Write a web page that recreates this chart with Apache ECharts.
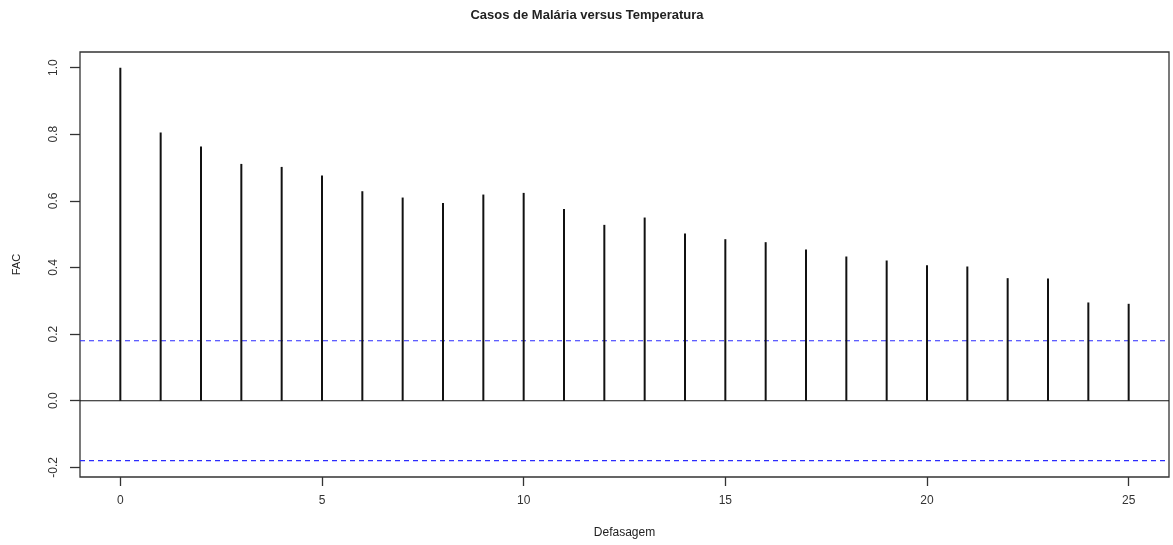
<!DOCTYPE html>
<html>
<head>
<meta charset="utf-8">
<script src="https://cdn.jsdelivr.net/npm/echarts@6/dist/echarts.min.js"></script>
<style>
  html, body { margin: 0; padding: 0; background: #fff; }
  #chart { width: 1173px; height: 545px; }
</style>
</head>
<body>
<div id="chart"></div>
<script>
// lags and autocorrelation values
const lags = [0, 1, 2, 3, 4, 5, 6, 7, 8, 9, 10, 11, 12, 13, 14, 15, 16, 17, 18, 19, 20, 21, 22, 23, 24, 25];
const acfValues = [1.0, 0.805, 0.763, 0.711, 0.702, 0.676, 0.629, 0.610, 0.594, 0.619, 0.624, 0.576, 0.528,
    0.550, 0.502, 0.485, 0.476, 0.454, 0.433, 0.421, 0.407, 0.403, 0.368, 0.367, 0.295, 0.291];
const confLimits = [0.18, -0.18];
const xTicks = [0, 5, 10, 15, 20, 25];
const yTicks = [-0.2, 0, 0.2, 0.4, 0.6, 0.8, 1.0];

const chart = echarts.init(document.getElementById('chart'));
const font = 'Liberation Sans, Arial, sans-serif';

const option = {
    animation: false,
    backgroundColor: '#fff',
    title: {
        text: 'Casos de Malária versus Temperatura',
        left: 582,
        textAlign: 'center',
        top: 4,
        textStyle: { fontFamily: font, fontSize: 13, fontWeight: 'bold', color: '#222' }
    },
    grid: {
        left: 80, right: 4, top: 52, bottom: 68,
        containLabel: false,
        outerBoundsMode: 'none',
        show: true,
        borderColor: '#333',
        borderWidth: 1.3,
        backgroundColor: 'transparent'
    },
    xAxis: {
        type: 'value',
        min: -1,
        max: 26,
        name: 'Defasagem',
        nameLocation: 'middle',
        nameGap: 50,
        nameTextStyle: { fontFamily: font, fontSize: 12, color: '#222' },
        splitLine: { show: false },
        axisLine: { show: false, onZero: false },
        axisTick: { show: true, inside: false, length: 9, customValues: xTicks, lineStyle: { color: '#333', width: 1.3 } },
        axisLabel: { customValues: xTicks, margin: 18, fontFamily: font, fontSize: 12, color: '#333' }
    },
    yAxis: {
        type: 'value',
        min: -0.229,
        max: 1.047,
        name: 'FAC',
        nameLocation: 'middle',
        nameRotate: 90,
        nameGap: 58,
        nameTextStyle: { fontFamily: font, fontSize: 11, color: '#222' },
        splitLine: { show: false },
        axisLine: { show: false, onZero: false },
        axisTick: { show: true, inside: false, length: 10, customValues: yTicks, lineStyle: { color: '#333', width: 1.3 } },
        axisLabel: {
            customValues: yTicks,
            rotate: 90,
            margin: 20,
            fontFamily: font,
            fontSize: 12,
            color: '#333',
            formatter: v => v.toFixed(1)
        }
    },
    series: [
        {
            type: 'bar',
            data: lags.map((l, i) => [l, acfValues[i]]),
            barWidth: 2,
            itemStyle: { color: '#111' },
            z: 3
        },
        {
            // zero line and confidence bounds as plain lines spanning the x range
            type: 'line',
            data: [[-1, 0], [26, 0]],
            symbol: 'none',
            lineStyle: { color: '#111', width: 1.2 },
            z: 2
        },
        {
            type: 'line',
            data: [[-1, confLimits[0]], [26, confLimits[0]]],
            symbol: 'none',
            lineStyle: { color: '#2b2bff', width: 1.2, type: [5, 4] },
            z: 2
        },
        {
            type: 'line',
            data: [[-1, confLimits[1]], [26, confLimits[1]]],
            symbol: 'none',
            lineStyle: { color: '#2b2bff', width: 1.2, type: [5, 4] },
            z: 2
        }
    ]
};

chart.setOption(option);
window.addEventListener('resize', () => chart.resize());
</script>
</body>
</html>
